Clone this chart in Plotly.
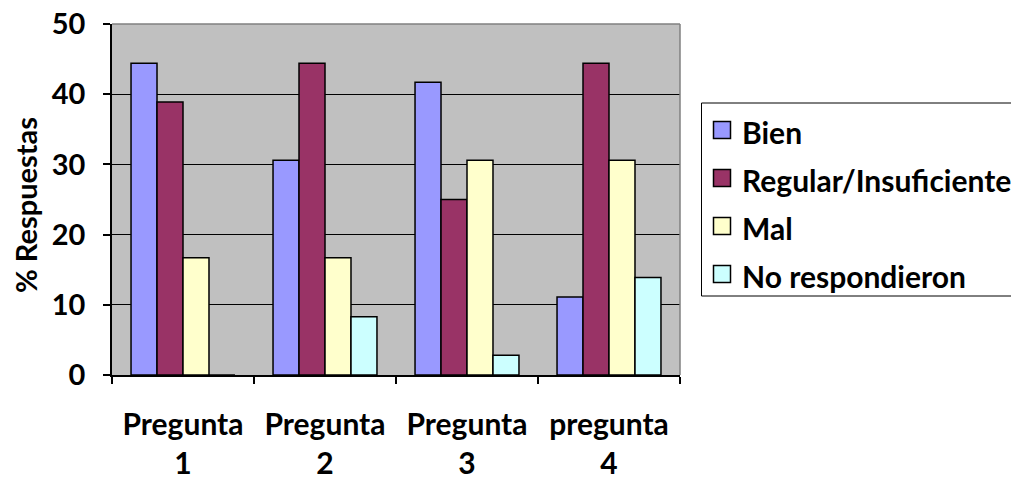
import plotly.graph_objects as go

# Survey results (% of answers) per question
categories = ["Pregunta<br>1", "Pregunta<br>2", "Pregunta<br>3", "pregunta<br>4"]
bien = [44.4, 30.6, 41.7, 11.1]
regular = [38.9, 44.4, 25.0, 44.4]
mal = [16.7, 16.7, 30.6, 30.6]
no_resp = [0.0, 8.3, 2.8, 13.9]

series_names = ["Bien", "Regular/Insuficiente", "Mal", "No respondieron"]
series_values = [bien, regular, mal, no_resp]
series_colors = ["#9999FF", "#993366", "#FFFFCC", "#CCFFFF"]

y_ticks = [0, 10, 20, 30, 40, 50]

W, H = 1011, 479
ML, MR, MT, MB = 112, 331, 24, 104
PW, PH = W - ML - MR, H - MT - MB

FONT = "Lato"


def px_x(px):
    return (px - ML) / PW


def px_y(py):
    return (H - MB - py) / PH


fig = go.Figure()
for name, vals, col in zip(series_names, series_values, series_colors):
    fig.add_trace(go.Bar(
        x=categories, y=vals, name=name,
        marker=dict(color=col, line=dict(color="black", width=1.5)),
        showlegend=False,
    ))

shapes = [
    # top and right frame of the plot area
    dict(type="line", xref="paper", yref="paper", x0=0, x1=1, y0=1, y1=1,
         line=dict(color="#808080", width=1.5)),
    dict(type="line", xref="paper", yref="paper", x0=1, x1=1, y0=0, y1=1,
         line=dict(color="#808080", width=1.5)),
    # legend box
    dict(type="rect", xref="paper", yref="paper",
         x0=px_x(701.5), x1=px_x(1030), y0=px_y(296), y1=px_y(103),
         line=dict(color="black", width=1), fillcolor="white", layer="above"),
]
annotations = [
    dict(text="% Respuestas", textangle=-90, xref="paper", yref="paper",
         x=px_x(25), y=px_y(205), xanchor="center", yanchor="middle", showarrow=False,
         font=dict(family=FONT, size=29, color="black", weight="bold")),
]
for i, (name, col) in enumerate(zip(series_names, series_colors)):
    yc = 130 + 48 * i
    shapes.append(dict(type="rect", xref="paper", yref="paper",
                       x0=px_x(713.5), x1=px_x(730.5), y0=px_y(yc + 8.5), y1=px_y(yc - 8.5),
                       line=dict(color="black", width=1.5), fillcolor=col, layer="above"))
    annotations.append(dict(text=name, xref="paper", yref="paper",
                            x=px_x(740), y=px_y(yc + 1.5), xanchor="left", yanchor="middle",
                            showarrow=False,
                            font=dict(family=FONT, size=30, color="black", weight="bold")))

fig.update_layout(
    width=W, height=H,
    margin=dict(l=ML, r=MR, t=MT, b=MB, autoexpand=False),
    paper_bgcolor="white", plot_bgcolor="#C0C0C0",
    barmode="group", bargap=0.268, bargroupgap=0,
    shapes=shapes, annotations=annotations,
    showlegend=False,
)
fig.update_xaxes(
    type="category", tickson="boundaries", ticks="outside", ticklen=7,
    tickcolor="black", tickwidth=1.5, showline=True, linecolor="black", linewidth=1.5,
    showgrid=False, ticklabelstandoff=22,
    tickfont=dict(family=FONT, size=30, color="black", weight="bold"),
)
fig.update_yaxes(
    range=[0, 50], tickvals=y_ticks, ticks="outside", ticklen=7,
    tickcolor="black", tickwidth=1.5, showline=True, linecolor="black", linewidth=1.5,
    showgrid=True, gridcolor="black", gridwidth=1.2, zeroline=False,
    ticklabelstandoff=12,
    tickfont=dict(family=FONT, size=29, color="black", weight="bold"),
)

fig.write_html("out.html")
